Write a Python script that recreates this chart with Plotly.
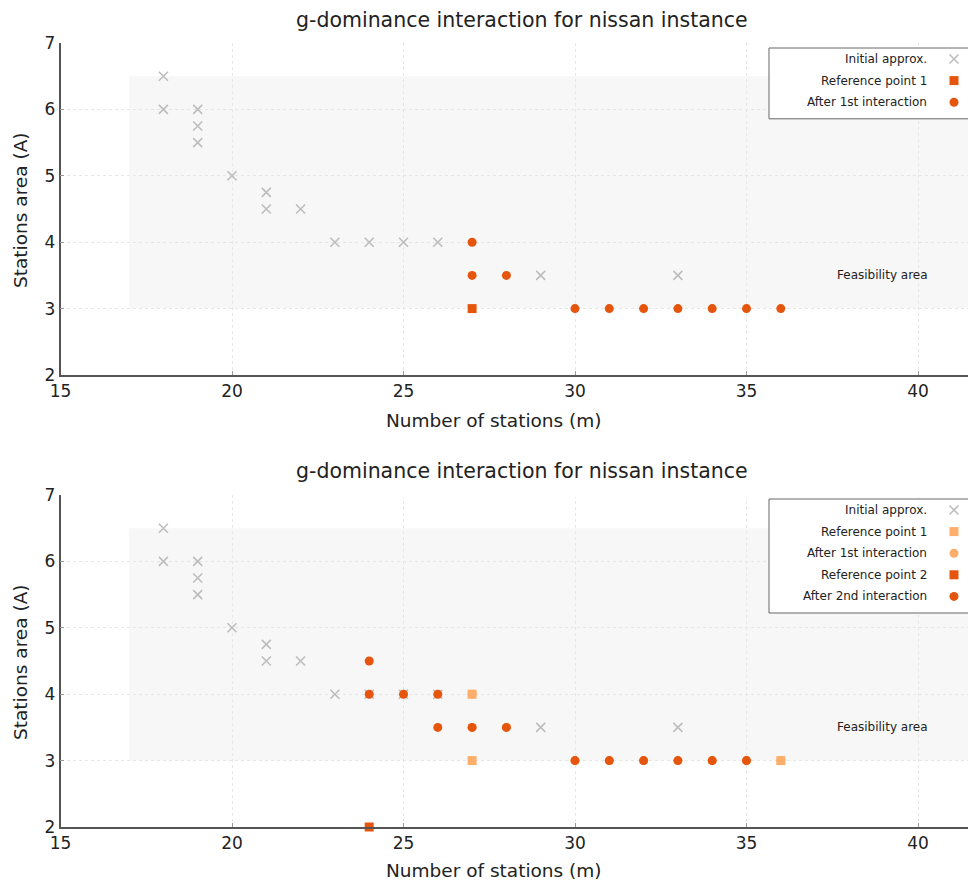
import plotly.graph_objects as go

# ---------------- data ----------------
init_x = [18, 18, 19, 19, 19, 20, 21, 21, 22, 23, 24, 25, 26, 29, 33]
init_y = [6.5, 6, 6, 5.75, 5.5, 5, 4.75, 4.5, 4.5, 4, 4, 4, 4, 3.5, 3.5]

ref1_x = [27]
ref1_y = [3]
after1_x = [27, 27, 28, 30, 31, 32, 33, 34, 35, 36]
after1_y = [4, 3.5, 3.5, 3, 3, 3, 3, 3, 3, 3]

# bottom chart
ref1b_x = [27, 27, 36]
ref1b_y = [4, 3, 3]
ref2_x = [24]
ref2_y = [2]
after2_x = [24, 24, 25, 26, 26, 27, 28, 30, 31, 32, 33, 34, 35]
after2_y = [4.5, 4, 4, 4, 3.5, 3.5, 3.5, 3, 3, 3, 3, 3, 3]

feas_x = [17, 60]
feas_y = [3, 6.5]

x_ticks = [15, 20, 25, 30, 35, 40]
y_ticks = [2, 3, 4, 5, 6, 7]

title_text = "g-dominance interaction for nissan instance"
xlabel = "Number of stations (m)"
ylabel = "Stations area (A)"
legend_top = ["Initial approx.", "Reference point 1", "After 1st interaction"]
legend_bot = ["Initial approx.", "Reference point 1", "After 1st interaction",
              "Reference point 2", "After 2nd interaction"]

# ---------------- styles ----------------
VW, VH = 976, 881          # viewport
OFF = 8                    # page body margin
W, H = VW, VH - OFF        # figure size
DARK = "#e6550d"
LIGHT = "#fdae6b"
GRAY = "#bdbdbd"
FONT = "DejaVu Sans"
MS = 9

def mk(kind, color):
    if kind == "x":
        return dict(symbol="x-thin", size=MS, line=dict(color=color, width=1.6))
    if kind == "s":
        return dict(symbol="square", size=MS, color=color, line=dict(width=0))
    return dict(symbol="circle", size=MS, color=color, line=dict(width=0))

fig = go.Figure()

# top chart
fig.add_trace(go.Scatter(x=init_x, y=init_y, mode="markers", marker=mk("x", GRAY), xaxis="x", yaxis="y"))
fig.add_trace(go.Scatter(x=ref1_x, y=ref1_y, mode="markers", marker=mk("s", DARK), xaxis="x", yaxis="y"))
fig.add_trace(go.Scatter(x=after1_x, y=after1_y, mode="markers", marker=mk("o", DARK), xaxis="x", yaxis="y"))

# bottom chart
fig.add_trace(go.Scatter(x=init_x, y=init_y, mode="markers", marker=mk("x", GRAY), xaxis="x2", yaxis="y2"))
fig.add_trace(go.Scatter(x=after1_x, y=after1_y, mode="markers", marker=mk("o", LIGHT), xaxis="x2", yaxis="y2"))
fig.add_trace(go.Scatter(x=ref1b_x, y=ref1b_y, mode="markers", marker=mk("s", LIGHT), xaxis="x2", yaxis="y2"))
fig.add_trace(go.Scatter(x=ref2_x, y=ref2_y, mode="markers", marker=mk("s", DARK), xaxis="x2", yaxis="y2", cliponaxis=False))
fig.add_trace(go.Scatter(x=after2_x, y=after2_y, mode="markers", marker=mk("o", DARK), xaxis="x2", yaxis="y2"))

# ---------------- custom legends (pixel overlay axis, viewport px) ----------------
def add_legend(top, labels, kinds):
    row_h = 21.6
    box_h = 10 + row_h * len(labels) - 4
    fig.add_trace(go.Scatter(x=[769, 1000, 1000, 769, 769],
                             y=[top, top, top + box_h, top + box_h, top],
                             mode="lines", fill="toself", fillcolor="white",
                             line=dict(color="#666666", width=1),
                             xaxis="x3", yaxis="y3"))
    for i, (lab, kd) in enumerate(zip(labels, kinds)):
        yy = top + 11 + i * row_h
        fig.add_trace(go.Scatter(x=[954], y=[yy], mode="markers", marker=mk(*kd),
                                 xaxis="x3", yaxis="y3"))
        fig.add_annotation(x=929, y=yy, xref="x3", yref="y3", text=lab, showarrow=False,
                           xanchor="right", yanchor="middle",
                           font=dict(family=FONT, size=12, color="#222222"))

add_legend(48, legend_top, [("x", GRAY), ("s", DARK), ("o", DARK)])
add_legend(499, legend_bot, [("x", GRAY), ("s", LIGHT), ("o", LIGHT), ("s", DARK), ("o", DARK)])

# ---------------- layout ----------------
x0px = 60.5
xmax = 15 + (OFF + W - x0px) / 34.3

def px2px(p):
    return (p - OFF) / W

def px2py(p):
    return (H - (p - OFF)) / H

axis_common = dict(showline=True, linecolor="#555555", linewidth=1.5, mirror=False,
                   showgrid=True, gridcolor="#e6e6e6", griddash="dot", gridwidth=1,
                   ticks="inside", ticklen=4, tickcolor="#999999", zeroline=False,
                   automargin=False,
                   tickfont=dict(family=FONT, size=17, color="#222222"))

fig.update_layout(
    template="none",
    width=W, height=H,
    margin=dict(l=0, r=0, t=0, b=0, pad=0, autoexpand=False),
    paper_bgcolor="white", plot_bgcolor="rgba(0,0,0,0)",
    showlegend=False,
    xaxis=dict(domain=[px2px(x0px), 1], range=[15, xmax], tickvals=x_ticks, anchor="y", **axis_common),
    yaxis=dict(domain=[px2py(375), px2py(43)], range=[2, 7], tickvals=y_ticks, anchor="x", **axis_common),
    xaxis2=dict(domain=[px2px(x0px), 1], range=[15, xmax], tickvals=x_ticks, anchor="y2", **axis_common),
    yaxis2=dict(domain=[px2py(827), px2py(495)], range=[2, 7], tickvals=y_ticks, anchor="x2", **axis_common),
    xaxis3=dict(domain=[0, 1], range=[OFF, OFF + W], visible=False, anchor="y3", fixedrange=True, automargin=False),
    yaxis3=dict(domain=[0, 1], range=[OFF + H, OFF], visible=False, anchor="x3", fixedrange=True, automargin=False),
)

# feasibility areas
for xr, yr in (("x", "y"), ("x2", "y2")):
    fig.add_shape(type="rect", xref=xr, yref=yr, x0=feas_x[0], x1=feas_x[1],
                  y0=feas_y[0], y1=feas_y[1], fillcolor="#f7f7f7", line=dict(width=0),
                  layer="below")
    fig.add_annotation(x=px2px(930), xref="paper", y=3.5, yref=yr, text="Feasibility area",
                       showarrow=False, xanchor="right", yanchor="middle",
                       font=dict(family=FONT, size=12, color="#222222"))

# white mask over the top grid line of bottom chart (as in reference)
fig.add_shape(type="rect", xref="x2", yref="y2", x0=21.75, x1=60, y0=6.97, y1=7.03,
              fillcolor="white", line=dict(width=0), layer="between")

# titles & axis labels
for ty, xy, yy in ((20, 420, 210), (471, 870, 662)):
    fig.add_annotation(x=522, y=ty, xref="x3", yref="y3", text=title_text, showarrow=False,
                       xanchor="center", yanchor="middle",
                       font=dict(family=FONT, size=20.5, color="#222222"))
    fig.add_annotation(x=494, y=xy, xref="x3", yref="y3", text=xlabel, showarrow=False,
                       xanchor="center", yanchor="middle",
                       font=dict(family=FONT, size=18.5, color="#222222"))
    fig.add_annotation(x=20, y=yy, xref="x3", yref="y3", text=ylabel, showarrow=False,
                       xanchor="center", yanchor="middle", textangle=-90,
                       font=dict(family=FONT, size=18.5, color="#222222"))

fig.write_html("out.html")
